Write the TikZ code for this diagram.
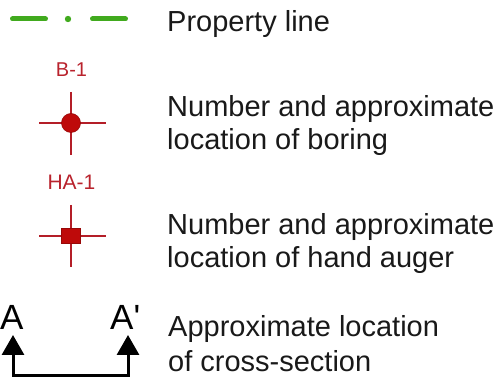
\documentclass[tikz,border=0pt]{standalone}
\usepackage{fontspec}
\setmainfont{Liberation Sans}
\usetikzlibrary{arrows.meta}
\definecolor{plgreen}{RGB}{65,170,30}
\definecolor{bred}{RGB}{190,10,10}
\definecolor{cred}{RGB}{180,30,40}
\definecolor{lred}{RGB}{185,35,45}
\begin{document}
\begin{tikzpicture}[x=1pt,y=1pt,
  lbl/.style={anchor=base west,inner sep=0pt,font=\fontsize{29}{33}\selectfont,text=black!90},
  idlbl/.style={anchor=base,inner sep=0pt,text=lred},
  pline/.style={plgreen,line width=5pt,line cap=round},
  crossline/.style={cred,line width=2.4pt},
  secline/.style={black,line width=3pt,{Triangle[length=20pt,width=22pt]}-{Triangle[length=20pt,width=22pt]}},
  letter/.style={anchor=base west,inner sep=0pt,font=\fontsize{35}{40}\selectfont}]
\useasboundingbox (0,0) rectangle (504,377);
% property line
\coordinate (p1) at (12.5,358);
\coordinate (p2) at (45.5,358);
\coordinate (p3) at (92.5,358);
\coordinate (p4) at (125.5,358);
\draw[pline] (p1) -- (p2);
\draw[pline] (p3) -- (p4);
\fill[plgreen] (68,358) circle (3.2);
\node[lbl] (t1) at (167,345) {Property line};
% boring
\node[idlbl,font=\fontsize{20}{24}\selectfont] (b1) at (71.5,300) {B-1};
\coordinate (bt) at (71,285);
\coordinate (bb) at (71,222);
\coordinate (bl) at (39,254);
\coordinate (br) at (106,254);
\draw[crossline] (bt) -- (bb);
\draw[crossline] (bl) -- (br);
\node[circle,fill=bred,draw=bred!80!black,line width=0.6pt,minimum size=19pt,inner sep=0pt] (bc) at (71,254) {};
\node[lbl] (t2) at (167,260) {Number and approximate};
\node[lbl] (t3) at (167,227) {location of boring};
% hand auger
\node[idlbl,font=\fontsize{21}{25}\selectfont] (h1) at (71.5,187) {HA-1};
\coordinate (ht) at (71,172);
\coordinate (hb) at (71,110);
\coordinate (hl) at (39,141);
\coordinate (hr) at (106,141);
\draw[crossline] (ht) -- (hb);
\draw[crossline] (hl) -- (hr);
\node[rectangle,fill=bred,draw=bred!80!black,line width=0.6pt,minimum width=19pt,minimum height=15pt,inner sep=0pt] (hs) at (71,141) {};
\node[lbl] (t4) at (167,142) {Number and approximate};
\node[lbl] (t5) at (167,109) {location of hand auger};
% cross-section
\node[letter] (A) at (0,47) {A};
\node[letter] (Ap) at (110,47) {A\XeTeXglyph\XeTeXglyphindex "quotesingle"\relax};
\coordinate (aL) at (13,42);
\coordinate (aR) at (128,42);
\coordinate (cL) at (13,1.5);
\coordinate (cR) at (128,1.5);
\draw[secline] (aL) -- (cL) -- (cR) -- (aR);
\node[lbl] (t6) at (168,40) {Approximate location};
\node[lbl] (t7) at (168,5) {of cross-section};
\end{tikzpicture}
\end{document}
